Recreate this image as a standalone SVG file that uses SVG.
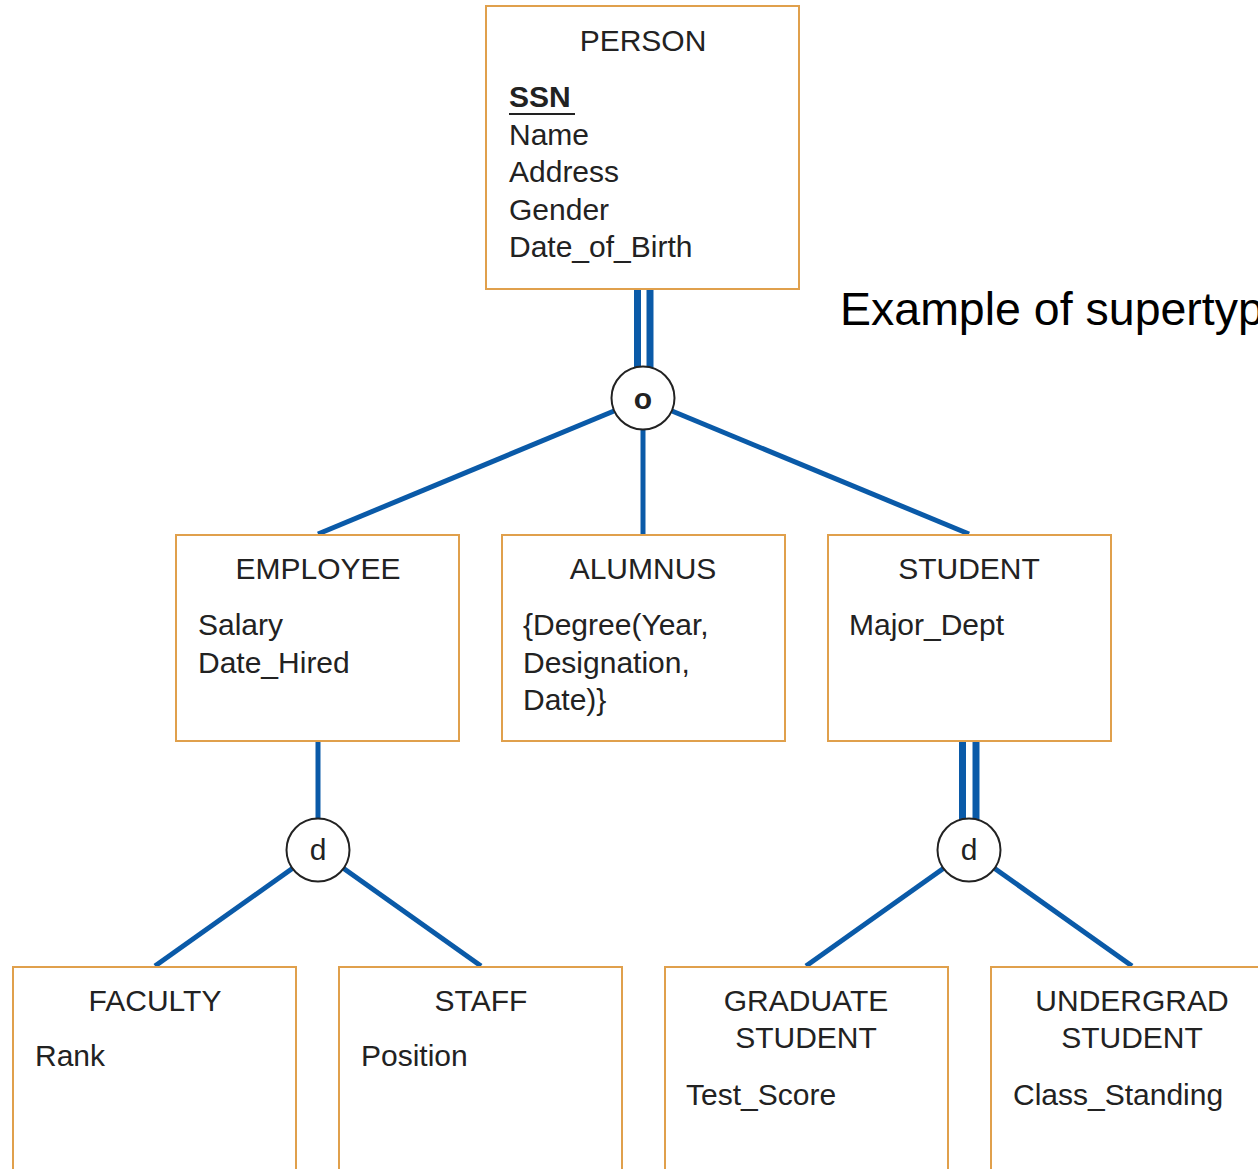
<svg xmlns="http://www.w3.org/2000/svg" width="1258" height="1169" viewBox="0 0 1258 1169">
<style>
.box{fill:#fff;stroke:#e0a04c;stroke-width:2}
.t{font-family:"Liberation Sans",Arial,sans-serif;font-size:30px;fill:#222}
.c{text-anchor:middle}
.ln{stroke:#0a5aa8;stroke-width:5;fill:none}
.dbl{stroke:#0a5aa8;stroke-width:7;fill:none}
.circ{fill:#fff;stroke:#222;stroke-width:2}
</style>
<rect width="1258" height="1169" fill="#fff"/>
<g id="connectors">
<line class="dbl" x1="637.5" y1="289" x2="637.5" y2="370"/>
<line class="dbl" x1="650" y1="289" x2="650" y2="370"/>
<line class="ln" x1="614" y1="411" x2="318" y2="534"/>
<line class="ln" x1="643" y1="429" x2="643" y2="534"/>
<line class="ln" x1="672" y1="411" x2="969" y2="534"/>
<line class="ln" x1="318" y1="741" x2="318" y2="819"/>
<line class="dbl" x1="962.5" y1="741" x2="962.5" y2="822"/>
<line class="dbl" x1="976" y1="741" x2="976" y2="822"/>
<line class="ln" x1="293" y1="868" x2="155" y2="966"/>
<line class="ln" x1="343" y1="868" x2="481" y2="966"/>
<line class="ln" x1="944" y1="868" x2="806" y2="966"/>
<line class="ln" x1="994" y1="868" x2="1132" y2="966"/>
</g>
<g id="person">
<rect class="box" x="486" y="6" width="313" height="283"/>
<text class="t c" x="643" y="51">PERSON</text>
<text class="t" x="509" y="107" font-weight="bold">SSN</text>
<line x1="509" y1="114" x2="575" y2="114" stroke="#222" stroke-width="2"/>
<text class="t" x="509" y="145">Name</text>
<text class="t" x="509" y="182">Address</text>
<text class="t" x="509" y="220">Gender</text>
<text class="t" x="509" y="257">Date_of_Birth</text>
</g>
<g id="overlap">
<circle class="circ" cx="643" cy="398" r="31.5"/>
<text class="t c" x="643" y="409" font-weight="bold">o</text>
</g>
<g id="employee">
<rect class="box" x="176" y="535" width="283" height="206"/>
<text class="t c" x="318" y="579">EMPLOYEE</text>
<text class="t" x="198" y="635">Salary</text>
<text class="t" x="198" y="673">Date_Hired</text>
</g>
<g id="alumnus">
<rect class="box" x="502" y="535" width="283" height="206"/>
<text class="t c" x="643" y="579">ALUMNUS</text>
<text class="t" x="523" y="635">{Degree(Year,</text>
<text class="t" x="523" y="673">Designation,</text>
<text class="t" x="523" y="710">Date)}</text>
</g>
<g id="student">
<rect class="box" x="828" y="535" width="283" height="206"/>
<text class="t c" x="969" y="579">STUDENT</text>
<text class="t" x="849" y="635">Major_Dept</text>
</g>
<g id="disjoint1">
<circle class="circ" cx="318" cy="850" r="31.5"/>
<text class="t c" x="318" y="860">d</text>
</g>
<g id="disjoint2">
<circle class="circ" cx="969" cy="850" r="31.5"/>
<text class="t c" x="969" y="860">d</text>
</g>
<g id="faculty">
<rect class="box" x="13" y="967" width="283" height="220"/>
<text class="t c" x="155" y="1011">FACULTY</text>
<text class="t" x="35" y="1066">Rank</text>
</g>
<g id="staff">
<rect class="box" x="339" y="967" width="283" height="220"/>
<text class="t c" x="481" y="1011">STAFF</text>
<text class="t" x="361" y="1066">Position</text>
</g>
<g id="graduate">
<rect class="box" x="665" y="967" width="283" height="220"/>
<text class="t c" x="806" y="1011">GRADUATE</text>
<text class="t c" x="806" y="1048">STUDENT</text>
<text class="t" x="686" y="1105">Test_Score</text>
</g>
<g id="undergrad">
<rect class="box" x="991" y="967" width="283" height="220"/>
<text class="t c" x="1132" y="1011">UNDERGRAD</text>
<text class="t c" x="1132" y="1048">STUDENT</text>
<text class="t" x="1013" y="1105">Class_Standing</text>
</g>
<text x="840" y="325" font-family="Liberation Sans,Arial,sans-serif" font-size="46.5" fill="#000">Example of supertype</text>
</svg>
